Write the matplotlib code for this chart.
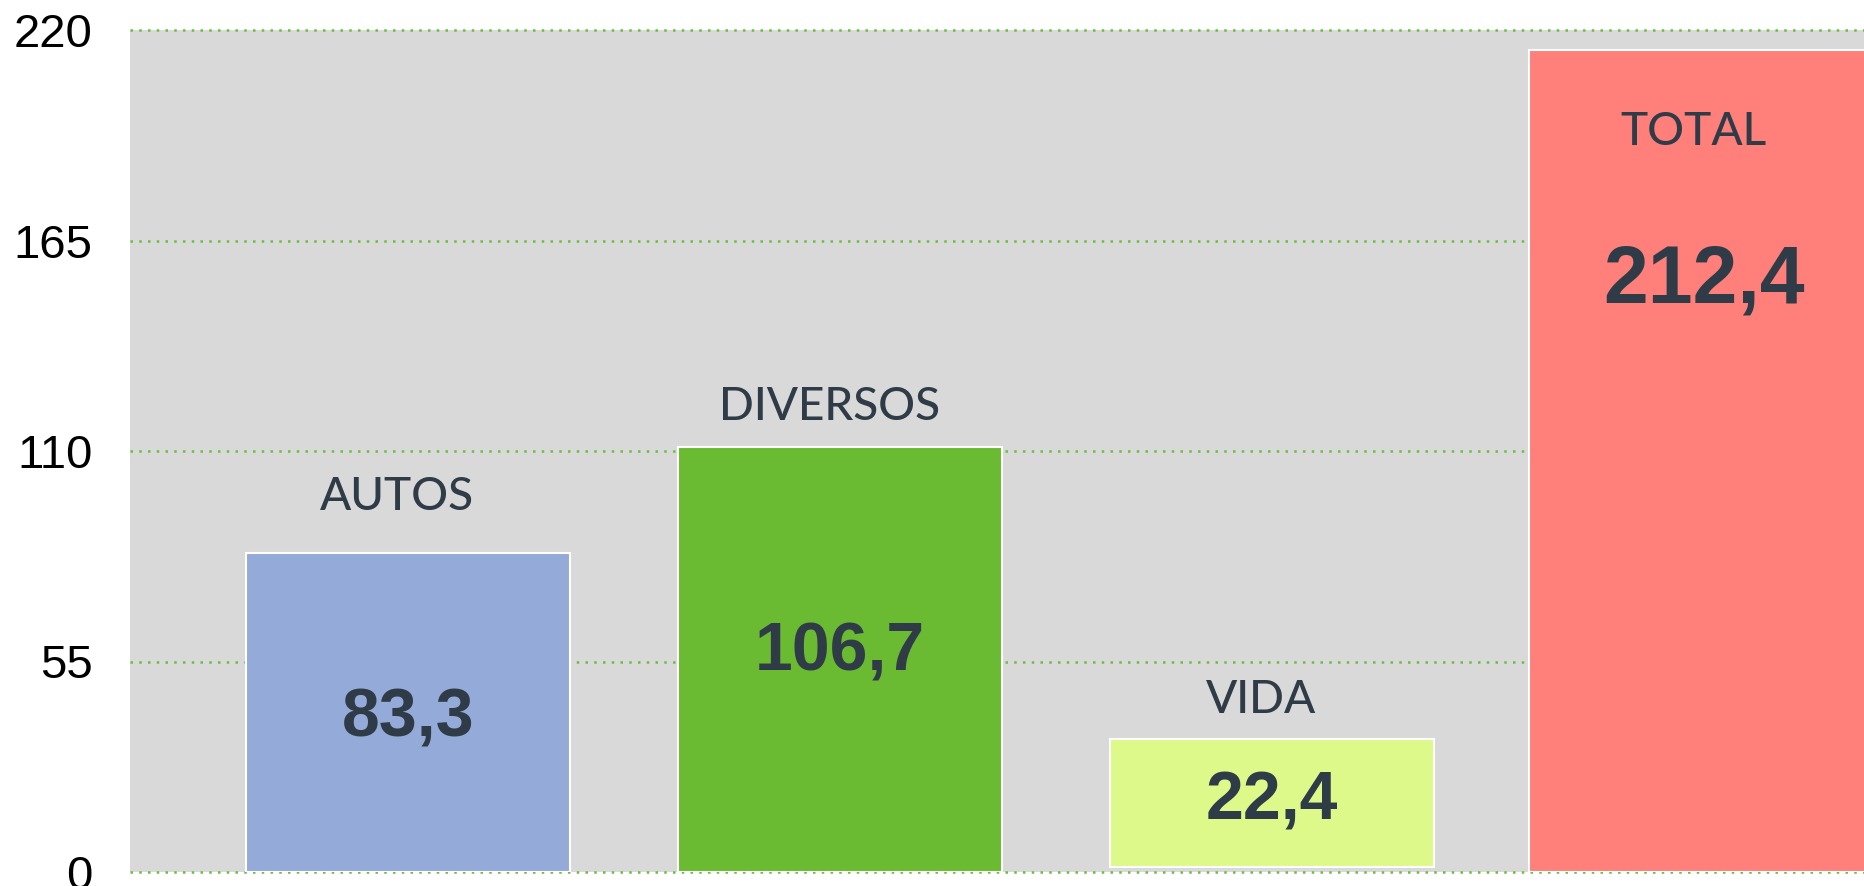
import matplotlib.pyplot as plt

# Données
categories = ['AUTOS', 'DIVERSOS', 'VIDA', 'TOTAL']
valeurs_affichees = ['83,3', '106,7', '22,4', '212,4']
hauteurs = [83.3, 111.0, 33.4, 214.8]
bases = [0, 0, 1.3, 0]
yticks = [0, 55, 110, 165, 220]

# Mise en forme
couleurs = ['#94aad8', '#6aba32', '#dcf98a', '#ff7f7a']
largeurs = [0.75, 0.75, 0.75, 0.81]
pos_nom = [94.6, 118.1, 41.5, 190.0]      # ligne de base des noms
pos_valeur = [40.0, 57.3, 18.5, 154.2]    # centre des valeurs
taille_valeur = [49, 49, 49, 58]
texte = '#2f3c48'

fig = plt.figure(figsize=(18.65, 8.86), dpi=100)
ax = fig.add_axes([130 / 1865, 14 / 886, 1 - 130 / 1865, 842 / 886])
ax.set_facecolor('#d9d9d9')

x = list(range(len(categories)))
ax.bar(x, hauteurs, width=largeurs, bottom=bases, color=couleurs,
       edgecolor='white', linewidth=1.5, zorder=3)

for i in x:
    ax.text(i - 0.025, pos_nom[i], categories[i], ha='center', va='baseline',
            fontsize=33, family='Lato', fontweight='medium',
            color=texte, zorder=4)
    ax.text(i, pos_valeur[i], valeurs_affichees[i], ha='center', va='center',
            fontsize=taille_valeur[i], family='Liberation Sans',
            fontweight='bold', color=texte, zorder=4)

ax.set_xlim(-0.6435, 3.3727)
ax.set_ylim(0, 220)
ax.set_yticks(yticks)
ax.set_yticklabels([str(t) for t in yticks], fontsize=34,
                   family='Liberation Sans')
ax.tick_params(axis='y', length=0, pad=27)
ax.set_xticks([])
ax.grid(axis='y', color='#68c03c', linewidth=1.8, linestyle=(0, (1, 2.5)),
        zorder=1)
for ligne in ax.get_ygridlines():
    ligne.set_clip_on(False)
for s in ax.spines.values():
    s.set_visible(False)

plt.savefig('out.png', dpi=100)
